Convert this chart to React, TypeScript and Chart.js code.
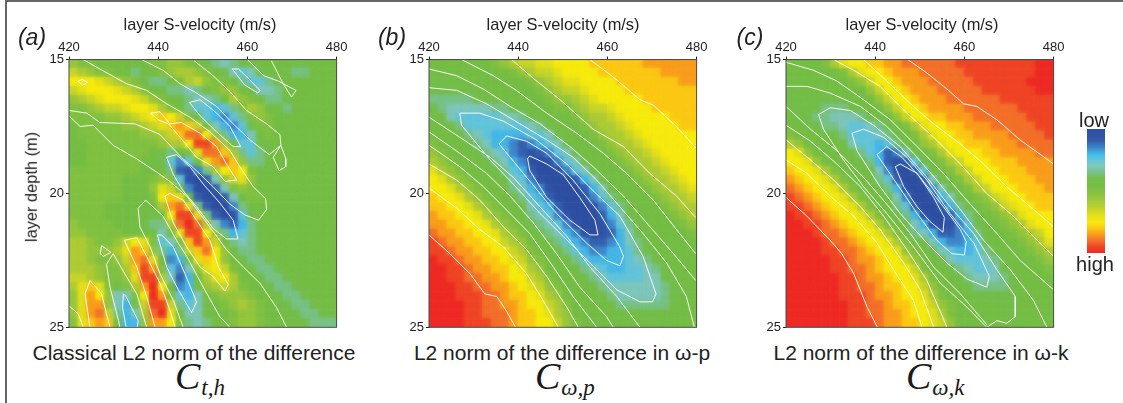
import React, { useEffect, useRef } from "react";
import { Chart, registerables } from "chart.js";

Chart.register(...registerables);

const velocityTicks = [420, 440, 460, 480];
const depthTicks = [15, 20, 25];
const CELL_V = 2;
const CELL_D = 1 / 3;

const colorStops: [number, string][] = [
  [0, "#2E4FA2"], [0.09, "#3358A8"], [0.15, "#3F86CB"], [0.21, "#46C1EE"], [0.29, "#7FC7C5"],
  [0.35, "#78C288"], [0.4, "#74BE4A"], [0.45, "#75BE45"], [0.5, "#80C142"], [0.55, "#95C63D"],
  [0.6, "#AECB36"], [0.65, "#C8D52A"], [0.7, "#E4E01A"], [0.75, "#F6EB0D"], [0.8, "#FBC814"],
  [0.85, "#F99D1C"], [0.9, "#F3702A"], [0.95, "#EF4526"], [1, "#EE2A24"],
];

const gridA = [
  [11,10,10,9,9,9,9,9,9,10,10,11,11,10,9,8,7,6,7,8,9,9,9,9,8,8,8,9,9,9],
  [13,12,11,10,10,9,9,7,8,9,10,11,12,12,11,10,9,8,6,5,6,8,9,9,8,7,7,9,9,9],
  [15,15,15,14,13,12,11,10,8,7,7,8,10,12,13,11,10,10,9,7,5,5,7,8,9,9,9,9,9,9],
  [13,14,15,15,15,14,13,12,10,9,8,7,7,6,7,8,10,11,11,9,8,6,6,7,9,9,9,9,9,9],
  [11,12,13,14,15,15,15,14,13,11,10,9,8,7,6,6,7,9,12,11,10,9,7,7,8,9,9,9,9,9],
  [10,10,11,12,13,13,14,15,15,14,12,10,9,7,5,5,4,5,7,10,12,11,9,8,7,8,9,9,9,9],
  [10,10,10,10,11,11,12,13,14,15,16,15,13,10,8,5,4,3,5,7,10,11,10,8,8,9,9,9,9,9],
  [9,10,10,10,10,10,11,11,12,13,14,16,17,16,13,9,6,4,3,5,8,10,10,9,8,9,9,9,9,9],
  [9,10,10,10,10,10,10,10,11,11,12,13,16,18,18,15,11,7,4,4,6,9,10,9,9,9,9,9,9,9],
  [9,9,10,10,10,10,10,10,10,10,11,12,12,15,19,19,17,12,8,5,5,8,9,9,9,9,9,9,9,9],
  [9,9,10,10,10,10,10,10,10,9,8,7,8,10,14,18,18,16,12,7,5,7,9,9,9,9,9,9,9,9],
  [9,9,10,10,10,10,10,10,9,9,8,5,3,5,9,14,17,18,16,11,7,7,9,9,9,9,9,9,9,9],
  [10,10,10,10,10,10,10,10,9,9,9,7,2,1,3,7,12,15,16,15,10,8,9,9,9,9,9,9,9,9],
  [10,10,10,10,10,10,9,9,9,10,11,10,5,1,0,2,6,11,13,14,11,9,9,9,9,9,9,9,9,9],
  [10,10,10,10,10,10,9,9,9,11,14,13,8,3,0,0,2,6,10,11,10,9,9,9,9,9,9,9,9,9],
  [10,10,10,10,10,10,9,9,9,10,15,16,14,8,2,0,0,2,6,9,10,10,9,9,9,9,9,9,9,9],
  [10,10,10,10,9,9,9,9,9,9,12,17,18,14,7,2,0,0,3,7,9,9,9,9,9,9,9,9,9,9],
  [10,10,10,10,9,9,9,9,9,8,9,15,19,19,14,7,2,0,1,5,8,9,9,9,9,9,9,9,9,9],
  [11,10,10,10,10,9,9,9,8,7,7,12,18,20,18,12,6,3,2,4,7,9,9,9,9,9,9,9,9,9],
  [11,11,10,10,10,10,9,9,9,8,6,8,14,19,19,15,11,7,4,5,7,8,9,9,9,9,9,9,9,9],
  [12,12,11,10,10,11,13,15,14,10,5,6,10,16,19,17,13,9,7,6,7,8,9,9,9,9,9,9,9,9],
  [12,12,11,11,11,12,14,17,16,11,7,4,7,13,16,18,15,11,8,7,7,8,9,9,9,9,9,9,9,9],
  [12,12,11,10,10,11,13,17,18,14,8,3,4,9,14,16,15,11,9,8,7,7,8,9,9,9,9,9,9,9],
  [12,12,12,11,10,10,12,16,19,17,10,5,3,6,11,14,15,13,10,9,8,7,7,8,9,9,9,9,9,9],
  [13,13,12,11,10,10,11,14,19,19,12,6,2,4,9,12,14,15,12,9,9,8,7,7,8,9,9,9,9,9],
  [12,14,16,14,10,8,10,12,17,20,15,8,3,4,8,11,12,13,12,10,9,9,8,7,7,8,9,9,9,9],
  [11,14,17,15,11,6,6,10,15,20,17,10,5,4,6,9,10,11,11,11,10,9,9,8,7,7,8,9,9,9],
  [11,14,17,17,11,6,4,8,13,19,19,13,7,5,6,8,9,10,11,12,11,10,9,8,8,7,7,8,8,9],
  [11,14,17,18,13,7,4,6,12,18,20,14,9,6,6,8,9,9,10,11,11,10,9,9,8,8,7,7,8,8],
  [10,14,16,17,16,8,4,4,11,17,17,15,10,7,6,7,9,9,10,11,11,10,9,9,9,8,8,7,7,7],
];

const gridB = [
  [9,9,9,9,9,9,9,10,11,12,13,13,14,14,15,15,15,15,16,16,16,16,16,16,17,17,17,17,17,17],
  [8,9,9,9,9,9,9,9,9,10,11,12,13,13,14,15,15,15,15,16,16,16,16,16,16,16,17,17,17,17],
  [8,8,8,8,9,9,9,9,9,9,9,10,11,12,13,14,14,15,15,15,15,16,16,16,16,16,16,16,17,17],
  [8,8,8,8,8,8,9,9,9,9,9,9,10,11,12,13,13,14,15,15,15,15,16,16,16,16,16,16,16,16],
  [7,7,7,7,7,8,8,8,9,9,9,9,9,10,11,11,12,13,14,15,15,15,15,15,16,16,16,16,16,16],
  [8,7,6,6,6,6,6,7,7,8,8,9,9,9,10,10,11,12,13,13,14,15,15,15,15,16,16,16,16,16],
  [9,8,6,5,5,5,5,5,6,6,7,8,9,9,9,9,10,11,12,12,13,14,15,15,15,15,15,16,16,16],
  [9,9,8,7,5,5,5,5,5,5,5,6,7,8,9,9,9,10,11,12,12,13,14,15,15,15,15,15,16,16],
  [9,9,9,9,7,6,5,4,4,4,4,5,5,6,8,9,9,9,10,11,12,12,13,14,15,15,15,15,15,15],
  [10,9,9,9,8,7,6,4,4,3,2,3,4,5,6,8,9,9,9,10,11,12,12,13,14,15,15,15,15,15],
  [11,10,9,9,9,8,7,6,5,3,2,1,2,3,5,6,8,9,9,9,10,11,12,12,13,14,15,15,15,15],
  [12,11,10,9,9,9,8,7,6,4,3,1,0,1,3,5,6,8,9,9,9,10,11,12,12,13,14,15,15,15],
  [14,12,11,10,9,9,9,8,7,5,4,2,0,0,1,3,5,6,8,9,9,9,10,11,12,12,13,14,15,15],
  [15,14,12,11,10,9,9,9,8,6,5,3,1,0,0,0,2,4,6,8,9,9,9,10,11,12,12,13,14,15],
  [15,15,14,12,11,10,9,9,9,7,6,4,3,1,0,0,0,2,4,6,8,9,9,9,10,11,12,12,13,14],
  [16,15,15,14,12,11,10,9,9,8,7,5,4,2,0,0,0,1,3,5,7,8,9,9,9,10,11,12,12,13],
  [16,16,15,15,14,12,11,10,9,9,8,6,5,4,2,0,0,0,1,3,5,7,8,9,9,9,10,11,12,12],
  [17,16,16,15,15,14,12,11,10,9,9,7,6,5,3,1,0,0,0,2,4,6,8,9,9,9,9,10,11,12],
  [17,17,16,16,15,15,14,12,11,10,9,8,7,6,5,3,1,0,0,1,3,5,7,8,9,9,9,9,10,11],
  [18,17,17,16,16,15,15,14,12,11,10,9,8,7,6,4,3,1,0,1,2,4,6,8,8,9,9,9,9,10],
  [19,18,17,17,16,16,15,15,13,12,11,9,9,8,7,5,4,3,2,2,3,4,6,7,8,9,9,9,9,9],
  [19,19,18,17,17,16,16,15,15,13,12,10,9,9,8,7,5,4,3,3,4,4,5,7,8,8,9,9,9,9],
  [20,19,19,18,17,17,16,16,15,14,13,11,10,9,9,8,7,5,4,4,4,4,5,6,7,8,9,9,9,9],
  [20,20,19,19,18,17,17,16,16,15,14,12,11,9,9,9,8,7,6,5,4,4,5,5,6,7,8,9,9,9],
  [20,20,19,19,18,18,17,17,16,15,15,13,12,10,9,9,9,8,7,6,5,5,5,5,6,6,8,8,9,9],
  [20,20,20,19,19,18,18,17,17,16,15,14,13,11,10,9,9,9,8,7,6,6,6,6,6,6,7,8,9,9],
  [20,20,20,19,19,19,18,18,17,16,16,15,14,12,11,9,9,9,9,8,7,6,6,6,6,6,7,8,8,9],
  [20,20,20,20,19,19,18,18,17,17,16,15,15,13,12,10,9,9,9,9,8,7,7,7,7,7,7,8,9,9],
  [20,20,20,20,19,19,18,18,18,17,16,16,15,14,12,11,9,9,9,9,9,8,8,8,8,8,8,9,9,9],
  [20,20,20,20,19,19,19,18,18,17,16,16,15,15,13,11,10,9,9,9,9,9,9,9,8,8,9,9,9,9],
];

const gridC = [
  [9,9,9,9,10,12,14,15,15,16,16,17,17,18,18,18,18,18,18,19,19,19,19,19,19,19,19,19,20,20],
  [9,9,9,9,9,9,10,12,14,15,15,16,17,17,17,18,18,18,18,18,19,19,19,19,19,19,19,19,20,20],
  [8,9,9,9,9,9,9,10,11,13,15,15,16,17,17,17,18,18,18,18,18,19,19,19,19,19,19,20,20,20],
  [8,8,9,9,9,9,9,9,9,11,13,15,15,16,17,17,17,18,18,18,18,18,19,19,19,19,19,19,20,20],
  [8,8,8,8,8,8,8,9,9,9,11,13,15,15,16,17,17,17,18,18,18,18,18,18,19,19,19,19,19,19],
  [8,8,8,8,7,7,7,8,8,9,9,11,13,15,15,16,17,17,17,17,18,18,18,18,18,18,19,19,19,19],
  [9,8,8,7,7,6,6,6,7,8,9,9,11,13,15,15,16,16,17,17,17,18,18,18,18,18,18,19,19,19],
  [9,9,8,8,7,7,6,5,5,6,7,8,9,10,12,14,15,15,16,16,17,17,17,18,18,18,18,18,19,19],
  [10,9,9,9,8,8,7,5,5,5,6,7,8,9,10,12,14,15,15,16,16,17,17,17,17,18,18,18,18,19],
  [12,11,9,9,9,9,8,6,5,5,4,5,7,9,9,11,12,14,15,15,16,16,16,17,17,17,18,18,18,18],
  [15,14,11,9,9,9,9,8,7,5,4,2,3,6,8,9,10,12,14,15,15,15,16,16,17,17,17,17,18,18],
  [15,15,14,11,9,9,9,9,8,7,4,2,1,2,5,8,9,10,12,13,15,15,15,16,16,16,17,17,17,17],
  [16,15,15,14,12,10,9,9,9,8,6,3,1,0,2,5,8,9,10,12,13,15,15,15,16,16,16,17,17,17],
  [17,16,15,15,14,12,10,9,9,9,7,5,2,0,0,2,6,8,9,10,12,13,15,15,15,16,16,16,17,17],
  [18,17,16,15,15,14,12,10,9,9,8,7,4,1,0,0,3,6,8,9,10,12,13,15,15,15,16,16,16,17],
  [19,18,17,16,15,15,14,12,10,9,9,8,6,3,0,0,1,4,6,8,9,10,11,13,14,15,15,16,16,16],
  [19,19,18,17,16,15,15,14,12,10,9,9,7,5,2,0,0,2,4,7,8,9,10,11,13,14,15,15,16,16],
  [20,19,19,18,17,16,15,15,14,12,10,9,8,7,4,1,0,0,2,4,7,8,9,10,11,12,14,15,15,15],
  [20,20,19,19,18,17,16,15,15,14,12,10,9,8,6,4,1,0,1,3,5,8,9,9,10,11,12,14,15,15],
  [20,20,20,19,18,18,17,16,15,15,14,12,10,9,7,6,4,2,2,3,4,7,8,9,9,10,11,12,13,15],
  [20,20,20,20,19,18,18,17,16,15,15,14,12,10,9,8,6,4,3,3,4,5,8,9,9,9,10,11,12,14],
  [20,20,20,20,19,19,18,18,17,16,15,15,14,11,10,9,8,6,5,4,4,5,7,8,9,9,9,10,11,12],
  [20,20,20,20,20,19,19,18,17,17,16,15,15,13,11,9,9,8,6,5,5,5,6,7,8,9,9,9,10,11],
  [20,20,20,20,20,19,19,18,18,17,16,15,15,15,13,10,9,9,8,7,6,5,5,6,8,9,9,9,9,10],
  [20,20,20,20,20,20,19,19,18,17,17,16,15,15,14,12,10,9,9,8,7,6,6,6,7,8,9,9,9,9],
  [20,20,20,20,20,20,19,19,18,18,17,16,16,15,15,13,11,9,9,9,8,7,7,7,7,8,9,9,9,9],
  [20,20,20,20,20,20,19,19,19,18,17,17,16,15,15,14,12,10,9,9,9,8,8,8,8,8,9,9,9,9],
  [20,20,20,20,20,20,20,19,19,18,18,17,16,16,15,15,13,11,10,9,9,9,9,8,8,8,9,9,9,9],
  [20,20,20,20,20,20,20,19,19,18,18,17,17,16,15,15,14,12,10,9,9,9,9,9,8,8,9,9,9,9],
  [20,20,20,20,20,20,20,19,19,19,18,17,17,16,16,15,14,13,11,9,9,9,9,9,9,9,9,9,9,9],
];

type P = [number, number];
const loop = (p: P[]): P[] => [...p, p[0]];

const contoursA: P[][] = [
  [[423.2,15],[426.9,15.35],[432.9,15.9],[437.4,16.15],[441.9,16.65],[447.1,17.15],[451.6,17.7],[456.1,18.4],[458.3,19],[461.3,19.75],[464.1,20.2],[464.3,20.6],[462.5,21],[459.4,20.8],[456.1,20.4],[452.3,19.75],[448.6,19.15],[445.2,18.65],[440.4,17.8],[434.8,17.4],[426.9,17.35],[424,17],[420,16.9]],
  [[420,17.1],[422.5,17.5],[425.4,17.45],[429.9,18.2],[435.1,18.7],[439.6,19.2],[442.6,19.55],[446.4,20.1],[450.9,21.1],[455.3,22.1],[459.1,22.75],[462.8,23.35],[466.5,24.25],[468.8,25]],
  [[436.3,15],[441.1,15.4],[444.9,15.9],[448.6,16.25],[453.1,16.75],[456.8,17.4],[460.6,18],[464.9,18.55],[467.5,18.2],[467.3,17.8],[464.3,17.4],[459.8,16.9],[456.1,16.2],[452.3,15.6],[448.1,15.05]],
  loop([[467.5,18.2],[468.6,18.7],[468.6,19],[467.1,19.15],[465.8,18.65]]),
  [[460,15],[463.6,15.6],[466.9,15.8],[470.9,16.15],[469.9,16.4],[468,15.9],[465.4,15.05]],
  loop([[456.6,15.35],[458,15.35],[460.2,15.7],[462.8,16.15],[462.4,16.25],[459.4,15.95]]),
  loop([[447,16.6],[449.4,16.5],[453.1,17],[456.1,17.5],[458.5,18.25],[456.8,18.25],[453.1,17.7],[449.4,17.1]]),
  loop([[438.3,17],[440.4,16.95],[442.6,17.4],[445.2,17.35],[449.4,17.75],[453.1,18.25],[455.3,18.9],[457.6,19.5],[455,19.55],[452.3,19],[448.6,18.65],[444.9,17.9],[442.3,17.4],[440,17.25]]),
  loop([[441.9,18.65],[444.1,18.55],[447.1,19],[450.1,19.65],[453.8,20.35],[456.8,21],[457.9,21.7],[455.3,21.7],[452.3,21.3],[448.6,20.5],[445.6,19.9],[443.4,19.3]]),
  loop([[441.5,20.1],[442.6,20],[445.6,20.25],[448.6,21],[451.6,21.75],[453.5,22.75],[455.7,23.4],[455,23.65],[452.3,23.1],[449.4,22.75],[446.4,22],[443.4,21.1]]),
  loop([[432.4,21.75],[435.2,21.65],[437.4,22.35],[440.4,23.35],[442.6,24.35],[443.8,25],[439.3,25],[437.4,23.85],[435.2,22.75]]),
  loop([[439.8,21.55],[440.8,21.55],[443.4,22],[446,23],[448.6,24.05],[447.5,24.45],[444.5,23.6],[441.9,22.75]]),
  loop([[424.7,23.25],[427.3,23.75],[428.4,24.5],[429.2,25],[424.7,25],[423.6,23.75]]),
  loop([[432.2,23.75],[432.8,23.85],[435.5,24.75],[435.3,25],[432.8,25],[432,24.25]]),
  loop([[427.3,21.95],[429.4,22.2],[427.7,22.35],[427,22.25]]),
  [[445.6,25],[443.4,24],[440.4,23],[438.2,22],[435.9,21.25],[435.5,20.55],[437.2,20.25],[441.1,20.85],[444.1,21.75],[446.4,22.35],[450.1,23.5],[453.8,24.6],[456.1,25]],
  [[431.4,25],[431.1,24.75],[429.2,23.5],[428.4,22.65],[429.9,22.25],[432.5,23],[435.2,23.75],[436.7,24.6],[437.4,25]],
  [[420,24.2],[422.1,24.5],[423.2,25]],
  loop([[422,15.8],[423,15.75],[424.2,15.85],[423,15.95]]),
];

const contoursB: P[][] = [
  [[456.1,15],[461.3,15.65],[467.3,16.5],[470.3,16.7],[475.5,17.5],[479.8,18.3]],
  [[438.5,15],[443.4,15.7],[449.4,16.5],[456.8,17.6],[463.6,18.25],[469.5,19.25],[475.5,20.1],[479.8,20.9]],
  [[427.3,15],[434.4,15.6],[439.6,16.15],[446.4,17],[453.1,17.75],[459.1,18.5],[464.3,19.25],[470.3,20.25],[475.5,21.35],[479.8,22.25]],
  [[420,15.35],[426.2,15.6],[432.2,16.1],[438.2,16.75],[444.9,17.4],[451.6,18.25],[456.8,19],[463.6,20.1],[468.8,21.1],[474.8,22.25],[479.8,23.25]],
  [[420,16.05],[426.2,16.15],[432.9,16.65],[440.4,17.4],[446.4,18],[452.3,18.65],[457.6,19.5],[462.8,20.5],[468,21.5],[473.3,22.6],[477.7,23.85],[479.5,25]],
  loop([[426.9,17],[431.4,17],[436.7,17.3],[444.1,18],[450.9,18.9],[456.8,19.9],[462.8,20.85],[468,22.35],[470.9,23.75],[470.1,24.05],[467.3,24.05],[462.1,23.6],[457.6,22.85],[451.6,21.85],[444.9,20.75],[438.9,19.65],[433.7,18.75],[427.3,17.45]]),
  loop([[435.7,18.15],[437.4,17.85],[441.9,18.05],[446.4,18.5],[452.3,19.5],[458.3,20.75],[462.8,22],[463.6,22.35],[462.8,22.7],[459.8,22.5],[455.3,21.85],[448.6,20.75],[441.9,19.4]]),
  loop([[442.1,18.7],[442.6,18.6],[446.4,18.9],[450.1,19.3],[453.8,20.15],[457.2,21],[457.9,21.55],[456.1,21.55],[451.6,21],[446.4,20.15],[442.6,19.15]]),
  [[420,17.15],[426.9,17.9],[433.7,18.65],[438.9,19.4],[444.9,20.5],[450.9,21.6],[456.1,22.75],[462.1,23.85],[467.3,25]],
  [[420,17.7],[426.9,18.5],[432.9,19.25],[438.2,20.1],[443.4,21.1],[448.6,22.25],[453.8,23.5],[459.8,24.6],[461.3,25]],
  [[420,18.2],[426.9,19],[432.2,19.75],[436.7,20.5],[442.6,21.5],[447.9,22.75],[452.3,23.85],[457.6,25]],
  [[420,18.9],[426.2,19.5],[431.4,20.25],[436.7,21.25],[441.9,22.1],[446.4,23.1],[450.9,24.25],[453.5,25]],
  [[420,19.8],[426.2,20.55],[431.4,21.35],[436.7,22],[441.9,23],[445.6,24],[449,25]],
  [[420,21.55],[424.7,22.25],[429.2,23],[432.5,23.75],[435.2,23.85],[437.4,24.4],[439.4,25]],
];

const contoursC: P[][] = [
  [[447.3,15],[451.6,15.5],[456.1,16.1],[459.8,16.65],[462.8,16.75],[467.3,17.25],[472.5,18],[480,18.9]],
  [[437.4,15],[442.6,15.8],[447.9,16.65],[453.1,17.4],[459.1,18.15],[464.3,18.9],[469.5,19.75],[475.5,20.6],[480,21.25]],
  [[430.7,15],[435.2,15.4],[441.1,16],[447.1,17],[453.1,17.9],[459.1,18.9],[465,20],[471,20.85],[476.3,21.75],[480,22.35]],
  [[420,15.1],[426.2,15.4],[431.4,15.8],[437.4,16.5],[443.4,17.25],[449.4,18.25],[455.3,19.25],[461.3,20.4],[467.3,21.5],[472.5,22.5],[480,23.6]],
  [[420,16],[424.7,16],[429.9,16.25],[436.7,16.75],[442.6,17.5],[448.6,18.5],[453.8,19.5],[459.1,20.6],[464.3,21.75],[470.3,22.85],[475.5,24],[478.5,25]],
  loop([[427.3,17.05],[429.9,16.8],[434.4,16.9],[439.6,17.45],[445.6,18.25],[451.6,19.4],[456.8,20.5],[462.1,21.5],[467.3,22.85],[471.4,23.85],[471.4,24.6],[469.5,24.85],[467.3,24.75],[465,25],[460.6,24.25],[454.6,23.35],[448.6,22],[442.6,20.75],[437.4,19.75],[432.9,18.75],[428.4,17.6]]),
  loop([[434.8,17.75],[437.4,17.6],[441.9,17.9],[447.1,18.65],[451.6,19.5],[456.8,20.75],[462.1,21.85],[465.6,23.1],[465,23.5],[460.6,23.2],[456.1,22.6],[451.6,21.85],[445.6,20.75],[441.1,19.75],[435.9,18.4]]),
  loop([[440.4,18.55],[442.6,18.25],[446,18.65],[450.1,19.4],[455.3,20.5],[459.1,21.35],[460.4,21.8],[460,22.3],[457.2,22.25],[453.8,21.75],[449.4,20.75],[444.9,19.65]]),
  loop([[444.5,19],[445.6,18.9],[449.4,19.25],[453.1,20.15],[455.5,20.9],[455.2,21.45],[452.3,21.05],[449.4,20.5],[446.4,19.75]]),
  [[420,16.75],[425.5,17.6],[431.4,18.4],[437.4,19.4],[442.6,20.4],[447.9,21.5],[453.1,22.75],[459.1,23.75],[465,24.9]],
  [[420,17.45],[425.5,18.05],[431.4,18.9],[436.7,19.75],[441.9,20.85],[447.1,22.1],[451.6,23.25],[456.1,25]],
  [[420,18],[425.5,18.75],[430.7,19.5],[436.7,20.5],[441.1,21.35],[446.4,22.6],[450.1,23.6],[453.1,25]],
  [[420,18.75],[424.7,19.25],[429.9,20.1],[435.2,20.85],[440.4,21.85],[444.1,22.85],[448.6,24],[450.5,25]],
  [[420,20.15],[424.7,20.85],[429.9,21.75],[432.5,22.25],[435.2,23],[438.2,24.25],[440.5,25]],
];

const hexRgb = (h: string) => [1, 3, 5].map((i) => parseInt(h.slice(i, i + 2), 16));
function colorAt(t: number) {
  for (let i = 1; i < colorStops.length; i++) {
    const [t1, c1] = colorStops[i];
    const [t0, c0] = colorStops[i - 1];
    if (t <= t1) {
      const f = (t - t0) / (t1 - t0);
      const a = hexRgb(c0), b = hexRgb(c1);
      return `rgb(${a.map((v, k) => Math.round(v + (b[k] - v) * f)).join(",")})`;
    }
  }
  return colorStops[colorStops.length - 1][1];
}

const borderPlugin = {
  id: "plotFrame",
  beforeDatasetDraw(chart: any, args: any) {
    if (args.index !== 0) return;
    const { ctx, chartArea: a } = chart;
    ctx.save();
    ctx.beginPath();
    ctx.rect(a.left, a.top, a.right - a.left, a.bottom - a.top);
    ctx.clip();
    args.meta.controller.draw();
    ctx.restore();
    ctx.filter = "blur(2.5px)";
  },
  afterDatasetDraw(chart: any, args: any) {
    if (args.index === 0) chart.ctx.filter = "none";
  },
  afterDatasetsDraw(chart: any) {
    const { ctx, chartArea: a } = chart;
    ctx.save();
    ctx.strokeStyle = "#4a4a4a";
    ctx.lineWidth = 1;
    ctx.strokeRect(a.left, a.top, a.right - a.left, a.bottom - a.top);
    ctx.restore();
  },
};

function heatConfig(grid: number[][], contours: P[][]) {
  const cells: { x: number; y: number }[] = [];
  const colors: string[] = [];
  grid.forEach((row, r) =>
    row.forEach((v, c) => {
      cells.push({ x: 420 + CELL_V * (c + 0.5), y: 15 + CELL_D * (r + 0.5) });
      colors.push(colorAt(v / 20));
    })
  );
  const tickFont = { family: "'Liberation Sans', Arial, sans-serif", size: 13 };
  return {
    type: "scatter" as const,
    data: {
      datasets: [
        {
          label: "misfit",
          data: cells,
          order: 2,
          clip: 0,
          pointStyle: "rect",
          pointBackgroundColor: colors,
          pointBorderWidth: 0,
          pointRadius: (ctx: any) => {
            const s = ctx.chart.scales.x;
            return (Math.abs(s.getPixelForValue(CELL_V) - s.getPixelForValue(0)) + 0.5) / Math.SQRT2;
          },
        },
        ...contours.map((c, i) => ({
          label: `contour ${i + 1}`,
          data: c.map(([x, y]) => ({ x, y })),
          order: 1,
          clip: 0,
          showLine: true,
          pointRadius: 0,
          borderColor: "rgba(255,255,255,0.92)",
          borderWidth: 1,
          tension: 0,
          fill: false,
        })),
      ],
    },
    options: {
      responsive: false,
      animation: false as const,
      events: [],
      layout: { padding: { left: 0, top: 0, right: 25.4, bottom: 12.7 } },
      plugins: { legend: { display: false }, tooltip: { enabled: false }, title: { display: false } },
      scales: {
        x: {
          type: "linear" as const,
          position: "top" as const,
          min: 420,
          max: 480,
          afterBuildTicks: (s: any) => { s.ticks = velocityTicks.map((value) => ({ value })); },
          afterFit: (s: any) => { s.height = 29.6; },
          grid: { drawOnChartArea: false, drawTicks: true, tickLength: 3, color: "#222", lineWidth: 1 },
          border: { color: "#4a4a4a" },
          ticks: { font: tickFont, color: "#222", padding: 1, maxRotation: 0 },
        },
        y: {
          type: "linear" as const,
          position: "left" as const,
          min: 15,
          max: 25,
          reverse: true,
          afterBuildTicks: (s: any) => { s.ticks = depthTicks.map((value) => ({ value })); },
          afterFit: (s: any) => { s.width = 45; },
          grid: { drawOnChartArea: false, drawTicks: true, tickLength: 3, color: "#222", lineWidth: 1 },
          border: { color: "#4a4a4a" },
          ticks: { font: tickFont, color: "#222", padding: 2 },
        },
      },
    },
    plugins: [borderPlugin],
  };
}

function barConfig() {
  return {
    type: "bar" as const,
    data: {
      labels: ["scale"],
      datasets: [
        {
          data: [1],
          barPercentage: 1,
          categoryPercentage: 1,
          backgroundColor: (ctx: any) => {
            const a = ctx.chart.chartArea;
            if (!a) return colorStops[0][1];
            const g = ctx.chart.ctx.createLinearGradient(0, a.top, 0, a.bottom);
            colorStops.forEach(([t, c]) => g.addColorStop(t, c));
            return g;
          },
        },
      ],
    },
    options: {
      responsive: false,
      animation: false as const,
      events: [],
      plugins: { legend: { display: false }, tooltip: { enabled: false } },
      scales: { x: { display: false }, y: { display: false, min: 0, max: 1 } },
    },
  };
}

function ChartCanvas({ config, left, top, width, height }: any) {
  const ref = useRef<HTMLCanvasElement>(null);
  useEffect(() => {
    const chart = new Chart(ref.current as HTMLCanvasElement, config());
    return () => chart.destroy();
  }, []);
  return <canvas ref={ref} width={width} height={height} style={{ position: "absolute", left, top, width, height }} />;
}

const SANS = "'Liberation Sans', Arial, sans-serif";
const SERIF = "'Liberation Serif', 'DejaVu Serif', serif";

function Label({ x, y, size, children, style }: any) {
  return (
    <div style={{ position: "absolute", left: x, top: y, transform: "translate(-50%,-50%)", whiteSpace: "nowrap", fontFamily: SANS, fontSize: size, color: "#222", lineHeight: 1, ...style }}>
      {children}
    </div>
  );
}

function Formula({ x, main, sub }: any) {
  return (
    <div style={{ position: "absolute", left: x, top: 354, whiteSpace: "nowrap", fontFamily: SERIF, fontStyle: "italic", fontSize: 38, lineHeight: "44px", color: "#1a1a1a" }}>
      {main}
      <span style={{ fontSize: 23, position: "relative", top: 6, marginLeft: 1 }}>{sub}</span>
    </div>
  );
}

const panelsInfo = [
  { key: "a", grid: gridA, contours: contoursA, canvasLeft: 24, xTitle: 200, caption: "Classical L2 norm of the difference", capX: 194, fx: 175, sub: "t,h", letterX: 32 },
  { key: "b", grid: gridB, contours: contoursB, canvasLeft: 384, xTitle: 563, caption: "L2 norm of the difference in ω-p", capX: 562, fx: 535, sub: "ω,p", letterX: 392 },
  { key: "c", grid: gridC, contours: contoursC, canvasLeft: 741, xTitle: 922, caption: "L2 norm of the difference in ω-k", capX: 921, fx: 906, sub: "ω,k", letterX: 750 },
];

export default function App() {
  return (
    <div style={{ position: "fixed", left: 0, top: 0, width: 1123, height: 403, background: "#fff", overflow: "hidden" }}>
      <div style={{ position: "absolute", left: 5, top: 0, width: 1118, height: 403, borderLeft: "2px solid #666", borderTop: "2px solid #666", boxSizing: "border-box" }} />
      {panelsInfo.map((p) => (
        <React.Fragment key={p.key}>
          <ChartCanvas config={() => heatConfig(p.grid, p.contours)} left={p.canvasLeft} top={30} width={338} height={310} />
          <Label x={p.xTitle} y={24} size={16.4}>layer S-velocity (m/s)</Label>
          <Label x={p.letterX} y={37} size={23} style={{ fontStyle: "italic" }}>({p.key})</Label>
          <Label x={p.capX} y={352} size={21}>{p.caption}</Label>
          <Formula x={p.fx} main="C" sub={p.sub} />
        </React.Fragment>
      ))}
      <Label x={31} y={187} size={16.4} style={{ transform: "translate(-50%,-50%) rotate(-90deg)" }}>layer depth (m)</Label>
      <ChartCanvas config={barConfig} left={1087} top={129} width={18} height={124} />
      <Label x={1094} y={120} size={20}>low</Label>
      <Label x={1095} y={264} size={20}>high</Label>
    </div>
  );
}
